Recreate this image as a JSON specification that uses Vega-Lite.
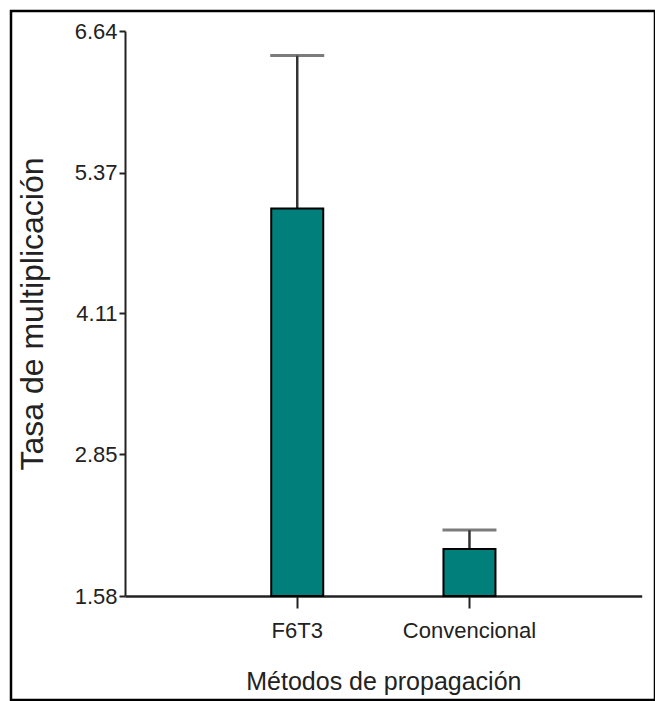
{
  "$schema": "https://vega.github.io/schema/vega-lite/v6.json",
  "width": 644,
  "height": 689,
  "autosize": {"type": "none"},
  "padding": {"left": 11, "top": 11, "right": 0, "bottom": 1},
  "background": "white",
  "config": {
    "view": {"stroke": "#000000", "strokeWidth": 2.5},
    "font": "Liberation Sans"
  },
  "data": {
    "values": [
      {"metodo": "F6T3", "tasa": 5.05, "superior": 6.42},
      {"metodo": "Convencional", "tasa": 2.0, "superior": 2.17}
    ]
  },
  "encoding": {
    "x": {
      "field": "metodo",
      "type": "nominal",
      "sort": ["F6T3", "Convencional"],
      "scale": {"domain": ["F6T3", "Convencional"], "range": [114, 630.7], "paddingInner": 0.698, "paddingOuter": 0.849},
      "axis": {
        "title": "Métodos de propagación",
        "offset": -104,
        "labelAngle": 0,
        "labelFontSize": 22,
        "labelColor": "#222222",
        "labelPadding": 12,
        "labelFlush": false,
        "tickSize": 12,
        "tickWidth": 2,
        "tickColor": "#222222",
        "domainColor": "#222222",
        "domainWidth": 2.5,
        "titleFontSize": 25,
        "titleFontWeight": "normal",
        "titleColor": "#222222",
        "titlePadding": 28,
        "grid": false
      }
    }
  },
  "layer": [
    {
      "mark": {"type": "rule", "color": "#333333", "strokeWidth": 2.5},
      "encoding": {
        "y": {
          "field": "tasa",
          "type": "quantitative",
          "scale": {"domain": [1.58, 6.64], "range": [585, 20], "nice": false, "zero": false},
          "axis": {
            "title": "Tasa de multiplicación",
            "offset": -114,
            "values": [1.58, 2.85, 4.11, 5.37, 6.64],
            "format": ".2f",
            "labelFontSize": 22,
            "labelColor": "#222222",
            "labelPadding": 2,
            "labelOverlap": false,
            "tickSize": 6,
            "tickWidth": 2,
            "tickColor": "#222222",
            "domainColor": "#222222",
            "domainWidth": 2,
            "titleFontSize": 32,
            "titleFontWeight": "normal",
            "titleColor": "#222222",
            "titlePadding": 25,
            "grid": false
          }
        },
        "y2": {"field": "superior"}
      }
    },
    {
      "mark": {"type": "tick", "orient": "horizontal", "size": 54, "thickness": 3, "color": "#444444"},
      "encoding": {
        "y": {
          "field": "superior",
          "type": "quantitative",
          "scale": {"domain": [1.58, 6.64], "range": [585, 20], "nice": false, "zero": false},
          "axis": {
            "title": "Tasa de multiplicación",
            "offset": -114,
            "values": [1.58, 2.85, 4.11, 5.37, 6.64],
            "format": ".2f",
            "labelFontSize": 22,
            "labelColor": "#222222",
            "labelPadding": 2,
            "labelOverlap": false,
            "tickSize": 6,
            "tickWidth": 2,
            "tickColor": "#222222",
            "domainColor": "#222222",
            "domainWidth": 2,
            "titleFontSize": 32,
            "titleFontWeight": "normal",
            "titleColor": "#222222",
            "titlePadding": 25,
            "grid": false
          }
        }
      }
    },
    {
      "mark": {"type": "bar", "fill": "#007F7B", "stroke": "#000000", "strokeWidth": 2},
      "encoding": {
        "y": {
          "field": "tasa",
          "type": "quantitative",
          "scale": {"domain": [1.58, 6.64], "range": [585, 20], "nice": false, "zero": false},
          "axis": {
            "title": "Tasa de multiplicación",
            "offset": -114,
            "values": [1.58, 2.85, 4.11, 5.37, 6.64],
            "format": ".2f",
            "labelFontSize": 22,
            "labelColor": "#222222",
            "labelPadding": 2,
            "labelOverlap": false,
            "tickSize": 6,
            "tickWidth": 2,
            "tickColor": "#222222",
            "domainColor": "#222222",
            "domainWidth": 2,
            "titleFontSize": 32,
            "titleFontWeight": "normal",
            "titleColor": "#222222",
            "titlePadding": 25,
            "grid": false
          }
        },
        "y2": {"datum": 1.58}
      }
    }
  ]
}
